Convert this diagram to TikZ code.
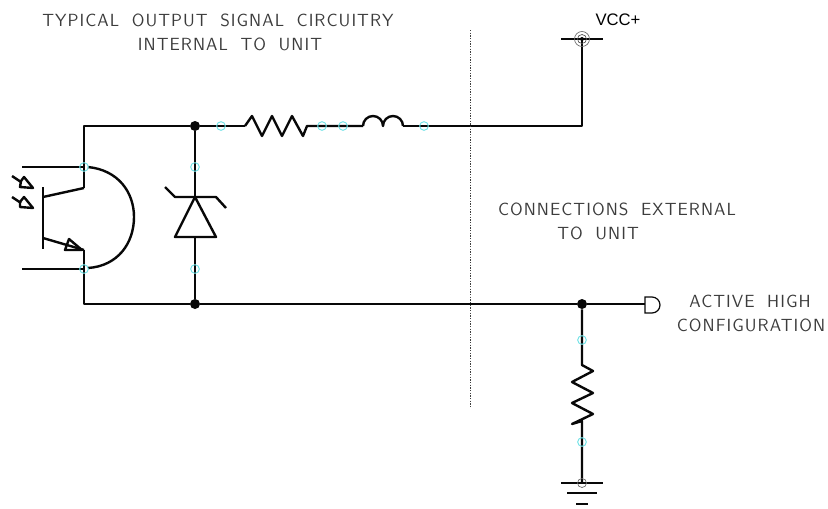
\documentclass[tikz,border=0pt]{standalone}
\usepackage{fontspec}
\setsansfont[LetterSpace=6,WordSpace=1.85]{Latin Modern Sans}
\newfontfamily\vccfont{Liberation Sans}
\usetikzlibrary{calc}
\definecolor{cad}{RGB}{8,8,8}
\definecolor{snapc}{RGB}{110,225,230}
\definecolor{lab}{RGB}{60,60,60}
\tikzset{
  wire/.style={draw=cad,line width=1.8pt,line join=round},
  thinwire/.style={draw=cad,line width=0.9pt},
  snapmark/.style={circle,draw=snapc,line width=0.7pt,minimum size=6.5pt,inner sep=0pt},
  junction/.style={circle,fill=cad,minimum size=7.5pt,inner sep=0pt},
  lbl/.style={font=\sffamily\fontsize{13.2pt}{15pt}\selectfont,text=lab,inner sep=0pt,align=center}
}
\begin{document}
\begin{tikzpicture}[x=0.75pt,y=-0.75pt]
\useasboundingbox (0,0) rectangle (828,508);
% key points
\coordinate (tl) at (84,126);
\coordinate (c1) at (84,188);
\coordinate (b1) at (43,197);
\coordinate (b2) at (43,238);
\coordinate (e1) at (84,250);
\coordinate (bl) at (84,304);
\node[junction] (jt) at (195,126) {};
\node[junction] (jb) at (195,304) {};
\node[junction] (jr) at (582,304) {};
\coordinate (r1a) at (245,126);
\coordinate (r1b) at (307,126);
\coordinate (l1a) at (363,126);
\coordinate (l1b) at (403,126);
\coordinate (tr) at (582,126);
\coordinate (vcc) at (582,39);
\coordinate (outp) at (645,304);
\coordinate (r2a) at (582,365);
\coordinate (r2b) at (582,421);
\coordinate (gnd) at (582,483);
\coordinate (zt) at (195,197);
\coordinate (zb) at (195,237);
% wires
\draw[wire] (c1) -- (tl) -- (jt) -- (r1a);
\draw[wire] (r1a) -- ++(7,-10) -- ++(10,20) -- ++(10,-20) -- ++(10,20) -- ++(10,-20) -- ++(11,20) -- (r1b) -- (l1a);
\draw[wire] (l1a) arc[start angle=180,end angle=360,radius=10] arc[start angle=180,end angle=360,radius=10];
\draw[wire] (l1b) -- (tr) -- (vcc);
\draw[wire] (e1) -- (bl) -- (jb) -- (jr) -- (outp);
\draw[wire] (jt) -- (zt);
\draw[wire] (zb) -- (jb);
% zener
\draw[wire] (zt) -- (175,237) -- (216,237) -- cycle;
\draw[wire] (165,187) -- (175,197) -- (216,197) -- (226,208);
% phototransistor
\draw[wire] (43,187) -- (43,249);
\draw[wire] (b1) -- (c1);
\draw[wire] (b2) -- (e1);
\draw[wire] (65,250) -- (82,250) -- (69,239) -- cycle;
\draw[wire] (22,167) -- (84,167);
\draw[wire] (22,269) -- (84,269);
\draw[wire] (88,167) .. controls (118,170) and (134,192) .. (134,217) .. controls (134,243) and (118,266) .. (88,268);
% light arrows
\draw[wire] (12,176) -- (21,182);
\draw[wire] (21,181) -- (24,177) -- (33,188) -- (20,187) -- cycle;
\draw[wire] (12,197) -- (21,203);
\draw[wire] (20,202) -- (24,197) -- (33,208) -- (20,207) -- cycle;
% right resistor
\draw[wire] (jr) -- (r2a) -- (593,371) -- (572,382) -- (593,393) -- (572,403) -- (593,414) -- (572,424) -- (r2b) -- (gnd);
% vcc
\draw[thinwire,line width=1.3pt] (561,39) -- (603,39);
\draw[draw=black!60,line width=0.5pt] (vcc) circle[radius=7.5];
\draw[draw=black!70,line width=0.5pt] (vcc) circle[radius=4.5];
\fill[cad] (vcc) circle[radius=2];
% ground
\draw[wire] (561,483) -- (603,483);
\draw[wire] (567,493) -- (597,493);
\draw[wire] (576,504) -- (588,504);
\draw[draw=black!60,line width=0.5pt] (gnd) circle[radius=4.5];
% output terminal
\draw[thinwire] (645,297) -- (645,313) -- (652,313) arc[start angle=90,end angle=-90,radius=8] -- cycle;
% divider
\draw[draw=black!75,line width=0.7pt,dash pattern=on 1pt off 1pt] (470,30) -- (470,407);
% snap marks
\foreach \n/\p in {a/{84,167},b/{84,269},c/{195,167},d/{195,269},e/{221,126},f/{322,126},g/{343,126},h/{424,126},i/{582,340},j/{582,442}}
  \node[snapmark] (s\n) at (\p) {};
% text
\node[lbl] (t1) at (218,20) {TYPICAL OUTPUT SIGNAL CIRCUITRY};
\node[lbl] (t2) at (230,44) {INTERNAL TO UNIT};
\node[lbl] (t3) at (617,209) {CONNECTIONS EXTERNAL};
\node[lbl] (t4) at (598,233) {TO UNIT};
\node[lbl] (t5) at (750,301) {ACTIVE HIGH};
\node[lbl] (t6) at (751,325) {CONFIGURATION};
\node[inner sep=0pt,font=\vccfont\fontsize{12.5pt}{14pt}\selectfont,text=black] (t7) at (618,20) {VCC+};
\end{tikzpicture}
\end{document}
